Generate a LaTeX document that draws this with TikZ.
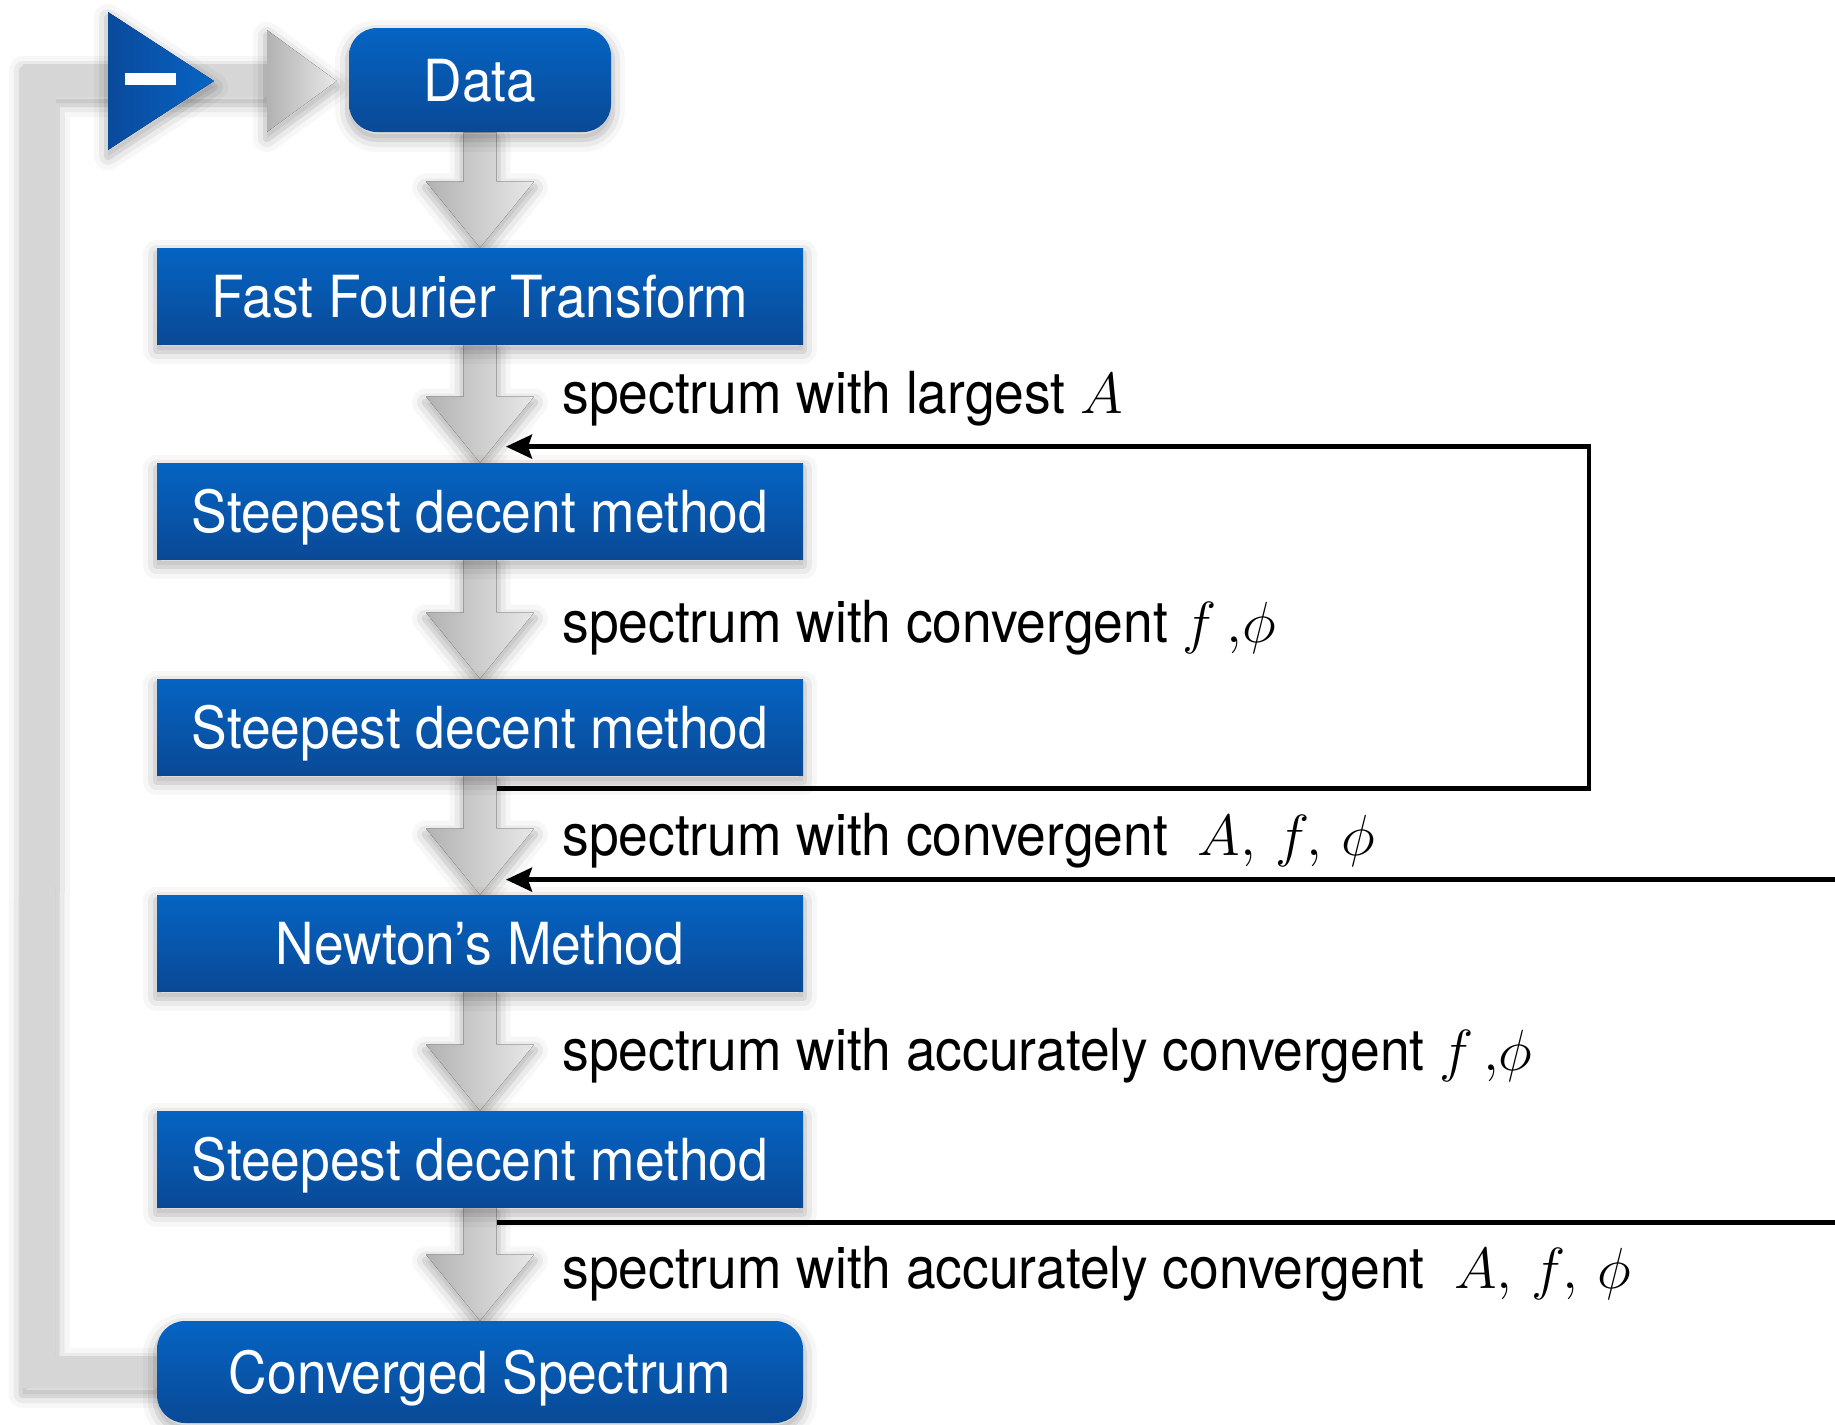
\documentclass[tikz,border=0pt]{standalone}
\usepackage{fix-cm}
\usepackage{fontspec}
\newfontfamily\heros[FakeStretch=0.92]{TeX Gyre Heros}
\usetikzlibrary{calc,arrows.meta}

\definecolor{boxtop}{HTML}{0564C3}
\definecolor{boxbot}{HTML}{0A4996}
\definecolor{grayL}{HTML}{B2B2B2}
\definecolor{grayR}{HTML}{E8E8E8}
\definecolor{grayBar}{HTML}{D6D6D6}
\definecolor{triL}{HTML}{0A4A9C}
\definecolor{triR}{HTML}{0764C4}

\pgfdeclarelayer{arrows}
\pgfsetlayers{arrows,main}

\tikzset{
  % layered halo used as a soft drop shadow
  halo/.style={
    preaction={draw=black, draw opacity=0.03, fill=black, fill opacity=0.06, line width=14pt, line join=round, transform canvas={yshift=-3pt}},
    preaction={draw=black, draw opacity=0.05, line width=9pt, line join=round, transform canvas={yshift=-3pt}},
    preaction={draw=black, draw opacity=0.08, line width=4pt, line join=round, transform canvas={yshift=-3pt}}},
  stagebox/.style={minimum width=323pt, minimum height=48pt, inner sep=0pt,
    top color=boxtop, bottom color=boxbot, text=white,
    font=\heros\fontsize{29}{34}\selectfont, text height=21pt, text depth=0pt, halo},
  endbox/.style={stagebox, rounded corners=14pt, minimum height=51pt},
  flowarrow/.style={left color=grayL, right color=grayR, halo},
  loopbar/.style={fill=grayBar, halo},
  steplabel/.style={anchor=base west, inner sep=0pt, font=\heros\fontsize{29}{34}\selectfont},
  feedback/.style={line width=2.2pt},
  fbtip/.style={-{Stealth[length=13pt,width=12pt,inset=2pt]}},
}

% gray block arrow from the bottom of one stage to the top of the next
\newcommand\flowdown[2]{%
  \fill[flowarrow] ($(#1.south)+(-16.5,0)$) -- ($(#2.north)+(-16.5,-66)$)
    -- ($(#2.north)+(-54,-66)$) -- (#2.north) -- ($(#2.north)+(54,-66)$)
    -- ($(#2.north)+(16.5,-66)$) -- ($(#1.south)+(16.5,0)$) -- cycle;}

\begin{document}
\begin{tikzpicture}[x=0.5pt,y=-0.5pt]
\useasboundingbox (0,0) rectangle (1835,1424);
\begin{pgfonlayer}{arrows}
  \fill[white] (0,0) rectangle (1835,1424);
\end{pgfonlayer}

% stages
\node[endbox, minimum width=131pt, minimum height=52pt] (data) at (480,80) {Data};
\node[stagebox] (fft) at (480,296) {Fast Fourier Transform};
\node[stagebox] (sd1) at (480,511) {Steepest decent method};
\node[stagebox] (sd2) at (480,727) {Steepest decent method};
\node[stagebox] (newton) at (480,943) {Newton’s Method};
\node[stagebox] (sd3) at (480,1159) {Steepest decent method};
\node[endbox] (conv) at (480,1372) {Converged Spectrum};

\begin{pgfonlayer}{arrows}
  % flow arrows
  \flowdown{data}{fft}
  \flowdown{fft}{sd1}
  \flowdown{sd1}{sd2}
  \flowdown{sd2}{newton}
  \flowdown{newton}{sd3}
  \flowdown{sd3}{conv}

  % return loop from the converged spectrum back to the data
  \coordinate (looptip) at ($(data.west)+(-12,1)$);
  \fill[loopbar] ($(conv.west)+(2,16)$) -- ++(-136,0) -- (23,64) -- (268,64)
    -- (268,97) -- (56,97) -- ($(conv.west)+(-101,-16)$) -- ($(conv.west)+(2,-16)$) -- cycle;
  \fill[flowarrow] (267,30) -- (looptip) -- (267,132) -- cycle;

  % subtraction marker
  \fill[left color=triL, right color=triR, halo] (108,12) -- (214,81) -- (108,150) -- cycle;
  \fill[white] (125,73) rectangle (176,85);
\end{pgfonlayer}

% labels of the intermediate spectra
\node[steplabel] (l1) at (562,413) {spectrum with largest $A$};
\node[steplabel] (l2) at (562,642) {spectrum with convergent $f\,,\!\phi$};
\node[steplabel] (l3) at (562,855) {spectrum with convergent \ $A,\,f,\,\phi$};
\node[steplabel] (l4) at (562,1070) {spectrum with accurately convergent $f\,,\!\phi$};
\node[steplabel] (l5) at (562,1288) {spectrum with accurately convergent \ $A,\,f,\,\phi$};

% feedback connectors
\coordinate (fbR) at (1589,0);
\coordinate (edgeR) at (1835,0);
\coordinate (fbStart) at ($(sd2.south)+(17,13)$);
\coordinate (fbEnd) at ($(sd1.north)+(26,-16)$);
\draw[feedback, fbtip] (fbStart) -- (fbStart -| fbR) |- (fbEnd);
\coordinate (nwEnd) at ($(newton.north)+(26,-15)$);
\coordinate (nwStart) at (nwEnd -| edgeR);
\draw[feedback, fbtip] (nwStart) -- (nwEnd);
\coordinate (cvStart) at ($(sd3.south)+(17,15)$);
\coordinate (cvEnd) at (cvStart -| edgeR);
\draw[feedback] (cvStart) -- (cvEnd);
\end{tikzpicture}
\end{document}
